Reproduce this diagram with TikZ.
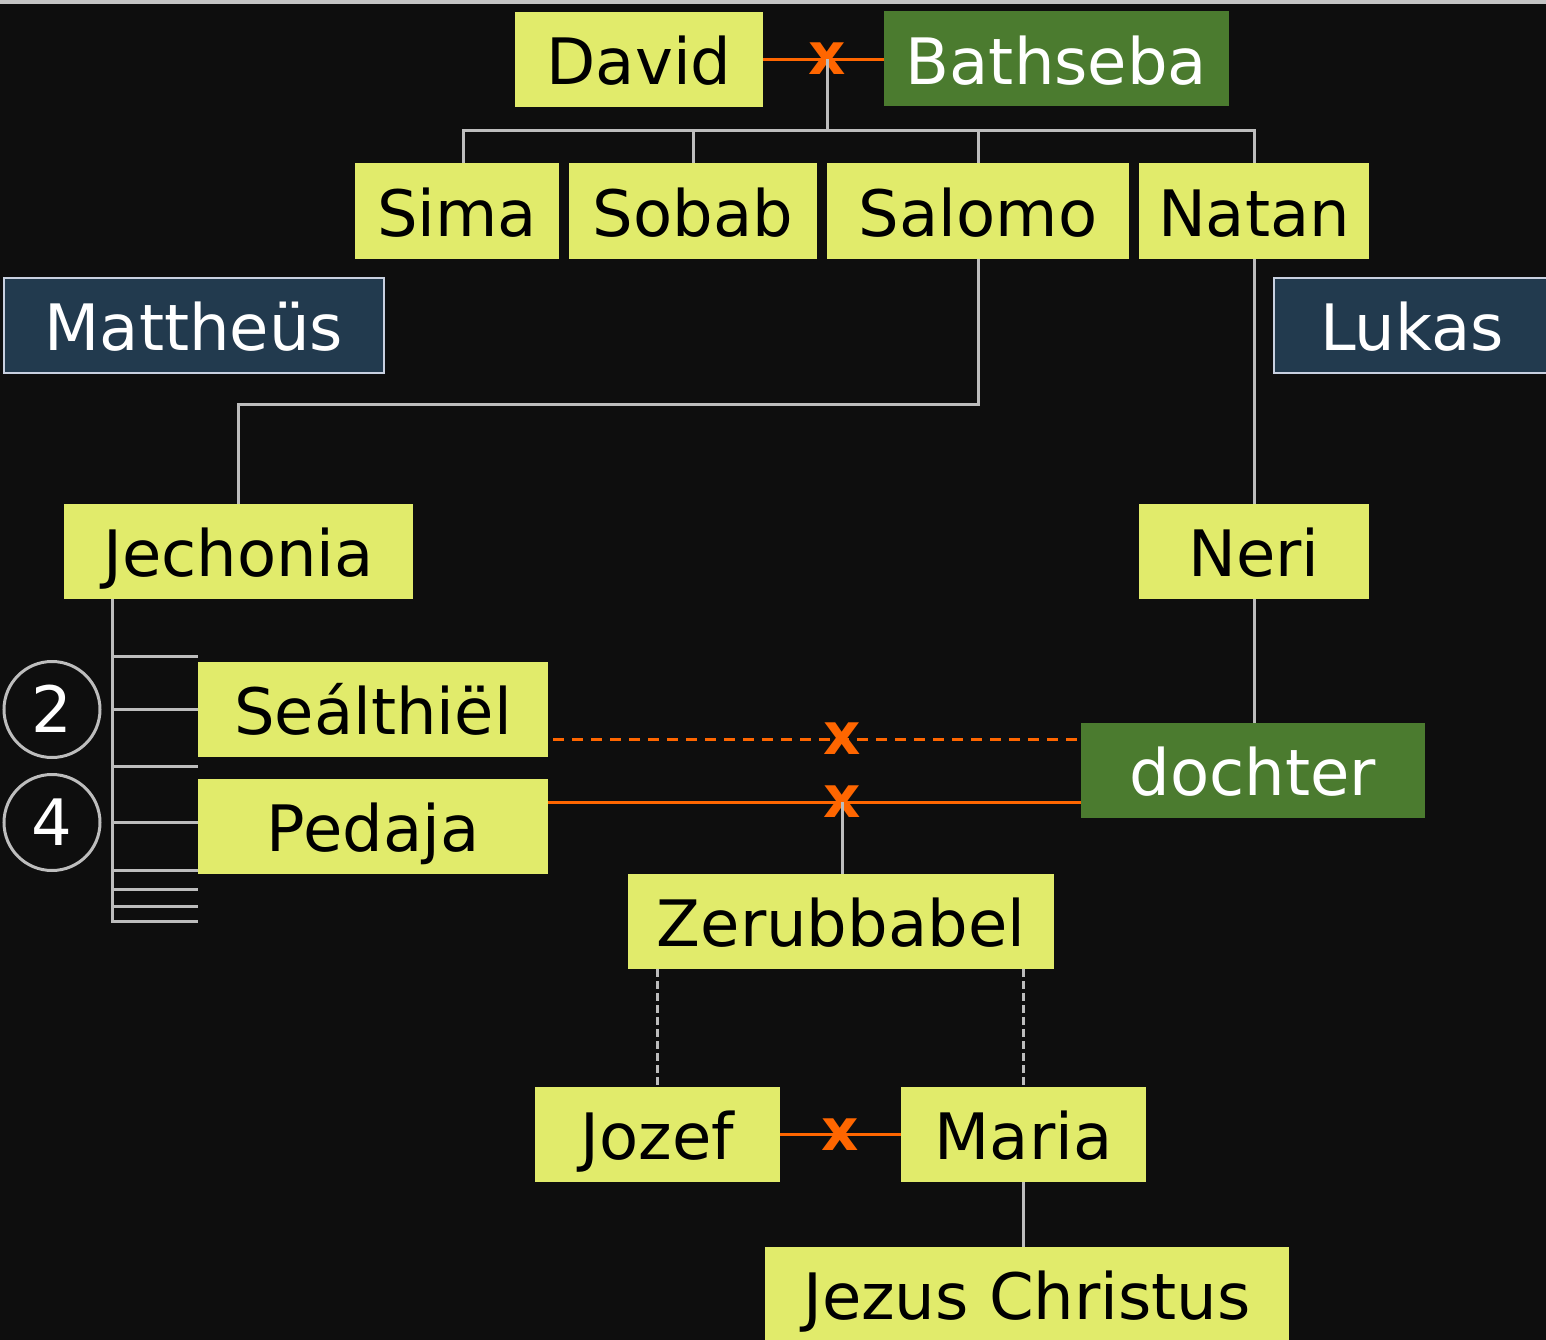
\documentclass[tikz,border=0pt]{standalone}
\usepackage{fontspec}
\setmainfont{DejaVu Sans}
\definecolor{bg}{HTML}{0E0E0E}
\definecolor{yel}{HTML}{E1EB6B}
\definecolor{grn}{HTML}{4B7B2F}
\definecolor{nav}{HTML}{223A4E}
\definecolor{bord}{HTML}{C8D0E0}
\definecolor{lin}{HTML}{BDBDBD}
\definecolor{org}{HTML}{FF6600}
\definecolor{topbar}{HTML}{C4C4C4}
\begin{document}
\begin{tikzpicture}[x=1pt,y=-1pt,
  box/.style={rectangle, inner sep=0pt, minimum height=95pt,
    font=\fontsize{64}{70}\selectfont, text height=50.5pt, text depth=0pt},
  ybox/.style={box, fill=yel, text=black},
  gbox/.style={box, fill=grn, text=white},
  nbox/.style={box, fill=nav, draw=bord, line width=2pt, text=white},
  circ/.style={circle, inner sep=0pt, minimum size=96pt, draw=lin, line width=3pt,
    text=white, font=\fontsize{64}{70}\selectfont, text height=46.7pt, text depth=0pt},
  conn/.style={draw=lin, line width=3pt},
  dconn/.style={draw=lin, line width=2.5pt, dash pattern=on 8pt off 4pt},
  mar/.style={draw=org, line width=3pt},
  dmar/.style={draw=org, line width=3pt, dash pattern=on 11pt off 8pt},
  xmk/.style={inner sep=0pt, text=org, font=\fontsize{58}{58}\selectfont\bfseries,
    text height=31.7pt, text depth=0pt}
]
\useasboundingbox (0,0) rectangle (1546,1340);
\fill[bg] (0,0) rectangle (1546,1340);
\fill[topbar] (0,0) rectangle (1546,4);

% nodes
\node[ybox, minimum width=248pt] (david) at (639,59.5) {David};
\node[gbox, minimum width=345pt] (bath) at (1056.5,59) {Bathseba};
\node[ybox, minimum width=204pt] (sima) at (457,211) {Sima};
\node[ybox, minimum width=248pt] (sobab) at (693,211) {Sobab};
\node[ybox, minimum width=302pt] (salomo) at (978,211) {Salomo};
\node[ybox, minimum width=230pt] (natan) at (1254,211) {Natan};
\node[nbox, minimum width=380pt] (matt) at (194,325) {Mattheüs};
\node[nbox, minimum width=276pt] (lukas) at (1412,325) {Lukas};
\node[ybox, minimum width=349pt] (jech) at (238.5,551.5) {Jechonia};
\node[ybox, minimum width=230pt] (neri) at (1254,551.5) {Neri};
\node[ybox, minimum width=350pt] (seal) at (373,709.5) {Seálthiël};
\node[ybox, minimum width=350pt] (ped) at (373,826.5) {Pedaja};
\node[gbox, minimum width=344pt] (doch) at (1253,770.5) {dochter};
\node[ybox, minimum width=426pt] (zer) at (841,921.5) {Zerubbabel};
\node[ybox, minimum width=245pt] (jozef) at (657.5,1134.5) {Jozef};
\node[ybox, minimum width=245pt] (maria) at (1023.5,1134.5) {Maria};
\node[ybox, minimum width=524pt] (jezus) at (1027,1294.5) {Jezus Christus};
\node[circ] (c2) at (52,709.5) {2};
\node[circ] (c4) at (52,822.5) {4};

% coordinates
\coordinate (m1) at (827,59);
\coordinate (bus) at (827,131);
\coordinate (m2) at (842,739);
\coordinate (m3) at (842,802);
\coordinate (m4) at (840,1135);
\coordinate (comb) at (112,921);

% David x Bathseba
\draw[mar] (david.east) -- (david.east -| bath.west);
\node[xmk] (x1) at (m1) {x};
\draw[conn] (m1) -- (bus);
\draw[conn] ([xshift=6pt]sima.north) -- ([xshift=6pt]sima.north |- bus) -| (natan.north);
\draw[conn] (sobab.north) -- (sobab.north |- bus);
\draw[conn] (salomo.north) -- (salomo.north |- bus);

% Salomo -> Jechonia
\draw[conn] (salomo.south) -- ++(0,146) -| (jech.north);
% Natan -> Neri -> dochter
\draw[conn] (natan.south) -- (neri.north);
\draw[conn] (neri.south) -- (neri.south |- doch.north);

% Jechonia comb
\draw[conn] (jech.south -| comb) -- (comb) -- (comb -| seal.west);
\foreach \yy in {656,766,870,889,906}
  \draw[conn] (112,\yy) -- (198,\yy);
\draw[conn] (112,709.5) -- (seal.west);
\draw[conn] (112,822) -- (ped.west |- 0,822);

% Sealthiel / Pedaja x dochter
\draw[dmar] (seal.east |- m2) ++(5,0) -- (m2 -| doch.west);
\draw[mar] (ped.east |- m3) -- (m3 -| doch.west);
\node[xmk] (x2) at (m2) {x};
\node[xmk] (x3) at (m3) {x};
\draw[conn] (m3) -- (m3 |- zer.north);

% Zerubbabel -> Jozef, Maria
\draw[dconn] (zer.south -| jozef.north) -- (jozef.north);
\draw[dconn] (zer.south -| maria.north) -- (maria.north);

% Jozef x Maria
\draw[mar] (jozef.east) -- (maria.west);
\node[xmk] (x4) at (m4) {x};
\draw[conn] (maria.south) -- (maria.south |- jezus.north);
\end{tikzpicture}
\end{document}
